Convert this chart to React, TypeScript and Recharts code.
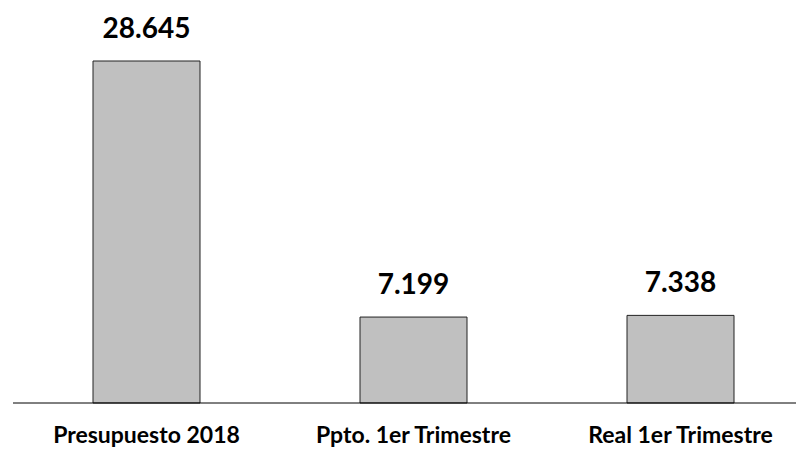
import { BarChart, Bar, XAxis, YAxis, LabelList } from "recharts"

const categories = ["Presupuesto 2018", "Ppto. 1er Trimestre", "Real 1er Trimestre"]
const values = [28645, 7199, 7338]

const data = categories.map((name, i) => ({ name, value: values[i] }))

const formatValue = (v: number) => String(v).replace(/\B(?=(\d{3})+(?!\d))/g, ".")

export default function App() {
  return (
    <div style={{ position: "absolute", left: 0, top: 0, width: 796, height: 450, overflow: "hidden" }}>
      <BarChart width={830} height={450} data={data} margin={{ top: 61, right: 16, left: 13, bottom: 17 }}>
        <XAxis
          dataKey="name"
          height={30}
          axisLine={{ stroke: "#000", strokeWidth: 1 }}
          tickLine={false}
          tickSize={0}
          tickMargin={24}
          tick={{ fontSize: 23, fontWeight: 700, fill: "#000", fontFamily: "Lato" }}
        />
        <YAxis hide domain={[0, 28645]} />
        <Bar dataKey="value" fill="#c0c0c0" stroke="#222" strokeWidth={1} barSize={107} isAnimationActive={false}>
          <LabelList
            dataKey="value"
            position="top"
            offset={23}
            formatter={(v: any) => formatValue(Number(v))}
            style={{ fontSize: 28, fontWeight: 700, fill: "#000", fontFamily: "Lato" }}
          />
        </Bar>
      </BarChart>
    </div>
  )
}
